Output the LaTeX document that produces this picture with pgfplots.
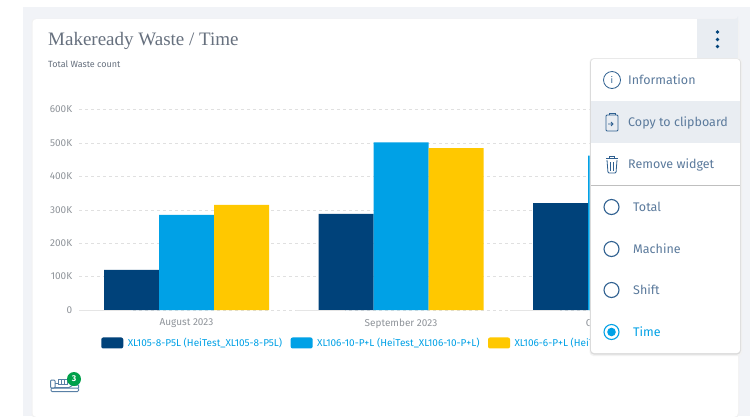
\documentclass[border=0pt]{standalone}
\usepackage{pgfplots}
\pgfplotsset{compat=1.18}
\usepackage{fontspec}
\setmainfont{Fira Sans}
\newfontfamily\titlefont{Liberation Serif}
\definecolor{bgg}{HTML}{F1F3F7}
\definecolor{hov}{HTML}{E9EDF2}
\definecolor{dk}{HTML}{00427A}
\definecolor{lb}{HTML}{00A1E6}
\definecolor{yl}{HTML}{FFC800}
\definecolor{menutx}{HTML}{5B7A9C}
\definecolor{icon}{HTML}{2F6090}
\definecolor{ttl}{HTML}{66707E}
\definecolor{tck}{HTML}{8F949A}
\definecolor{badge}{HTML}{00A04A}
\pgfplotstableread{
x dark light yellow
0 120000 285000 315000
1 288000 502000 485000
2 320000 462000 400000
}\wastedata
\begin{document}
\begin{tikzpicture}[x=1pt,y=-1pt]
\clip (0,0) rectangle (754,416);
\fill[white] (0,0) rectangle (754,416);
\fill[bgg] (22.5,7) rectangle (750,416);
\fill[black!5,rounded corners=4pt] (31.5,18.5) rectangle (739,418);
\fill[white,rounded corners=4pt] (32.5,19) rectangle (738,417);
\fill[hov] (697,19) -- (735,19) arc[start angle=90,end angle=0,radius=3] -- (738,59) -- (697,59) -- cycle;
\foreach \yy in {32,39.5,46.5} \fill[dk] (717.5,\yy) circle (1.9);
\node[anchor=base west,inner sep=0,font=\titlefont\fontsize{19}{22}\selectfont,text=ttl] at (48,45.5) {Makeready Waste / Time};
\node[anchor=base west,inner sep=0,font=\fontsize{9}{11}\selectfont,text=ttl] at (48,67) {Total Waste count};
\begin{axis}[
  at={(79.25pt,-310pt)},anchor=south west,
  scale only axis,width=643.5pt,height=200.4pt,
  xmin=-0.5,xmax=2.5,ymin=0,ymax=600000,
  axis line style={draw=none},
  tick style={draw=none},
  xtick={0,1,2},xticklabels={August 2023,September 2023,October 2023},
  ytick={100000,200000,300000,400000,500000,600000,0},
  yticklabels={100K,200K,300K,400K,500K,600K,0},
  scaled y ticks=false,
  ymajorgrids,
  grid style={dashed,draw=black!12,line width=0.6pt},
  tick label style={font=\fontsize{10}{12}\selectfont,text=tck},
  xticklabel style={yshift=-1pt},
  yticklabel style={xshift=-3.5pt},
  clip=false,
  ybar,bar width=55pt,
  legend columns=3,
  legend cell align=left,
  legend style={draw=none,fill=none,at={(22pt,-27pt)},anchor=north west,inner sep=0pt,outer sep=0pt,
    font=\fontsize{10}{12}\selectfont,text=lb,row sep=0pt,
    /tikz/every even column/.append style={column sep=7.5pt},
    /tikz/every odd column/.append style={column sep=3.5pt},
    nodes={inner sep=1pt}},
  legend image code/.code={\fill[#1,rounded corners=2pt] (0pt,-5.5pt) rectangle (22pt,5.5pt);},
]
\addplot[draw=none,fill=dk,bar shift=-55pt] table[x=x,y=dark]{\wastedata};
\addplot[draw=none,fill=lb,bar shift=0pt] table[x=x,y=light]{\wastedata};
\addplot[draw=none,fill=yl,bar shift=55pt] table[x=x,y=yellow]{\wastedata};
\legend{XL105-8-P5L (HeiTest\_XL105-8-P5L),XL106-10-P+L (HeiTest\_XL106-10-P+L),XL106-6-P+L (HeiTest\_XL106-6-P+L)}
\draw[black!10,line width=1pt] (axis cs:-0.5,0) -- (axis cs:-0.26,0) (axis cs:0.51,0) -- (axis cs:0.74,0) (axis cs:1.51,0) -- (axis cs:1.74,0);
\end{axis}
% machine icon
\begin{scope}[draw=icon!80,line width=1pt]
\draw[rounded corners=1pt] (50.5,380) rectangle (55,388);
\draw (55,383) -- (58,383) (58,379.5) rectangle (67,384);
\draw (61,379.5) -- (61,384) (64,379.5) -- (64,384);
\draw[rounded corners=1pt] (51,388) -- (78.5,388) -- (78.5,391.5) -- (51,391.5) -- cycle;
\draw (55,387.5) -- (69,387.5) -- (73,385) -- (78.5,385) -- (78.5,388);
\end{scope}
\fill[badge] (74,379) circle (7);
\node[text=white,font=\bfseries\fontsize{8.5}{10}\selectfont,inner sep=0] at (74,379) {3};
% menu
\fill[black!5,rounded corners=4pt] (589.5,58) rectangle (742,356);
\fill[black!14,rounded corners=4pt] (590,58.5) rectangle (741,354.5);
\fill[white,rounded corners=3pt] (591,59) rectangle (740,353);
\fill[hov] (591,101) rectangle (740,143);
\draw[black!25,line width=0.8pt] (591,185) -- (740,185);
\tikzset{mt/.style={anchor=base west,inner sep=0,font=\fontsize{12.5}{14}\selectfont,text=menutx}}
\node[mt] at (628,84.5) {Information};
\node[mt] at (628,126.5) {Copy to clipboard};
\node[mt] at (628,168) {Remove widget};
\node[mt] at (633,211) {Total};
\node[mt] at (633,253) {Machine};
\node[mt] at (633,294.5) {Shift};
\node[mt,text=lb] at (633,336) {Time};
% info icon
\draw[icon,line width=0.8pt] (612,80) circle (8.5);
\node[text=icon,font=\fontsize{9}{10}\selectfont,inner sep=0] at (612,80) {i};
% clipboard icon
\draw[icon,line width=0.8pt,rounded corners=1pt] (606,115) rectangle (618,131);
\draw[icon,line width=0.8pt] (609,115) -- (609,113) -- (615,113) -- (615,115);
\draw[icon,line width=0.8pt,-] (608,124) -- (613,124) (611,122) -- (613,124) -- (611,126);
% trash icon
\draw[icon,line width=0.8pt,rounded corners=1pt] (607,160) -- (608,173) -- (616,173) -- (617,160);
\draw[icon,line width=0.8pt] (606,158.5) -- (618,158.5) (609.5,158) -- (609.5,156) -- (614.5,156) -- (614.5,158);
\draw[icon,line width=0.8pt] (610.5,162) -- (610.5,170.5) (613.5,162) -- (613.5,170.5);
% radios
\foreach \yy in {207,249,290} \draw[icon,line width=1.1pt] (611.5,\yy) circle (7.5);
\draw[lb,line width=1.1pt] (611.5,332) circle (7.5);
\fill[lb] (611.5,332) circle (4.3);
\end{tikzpicture}
\end{document}
